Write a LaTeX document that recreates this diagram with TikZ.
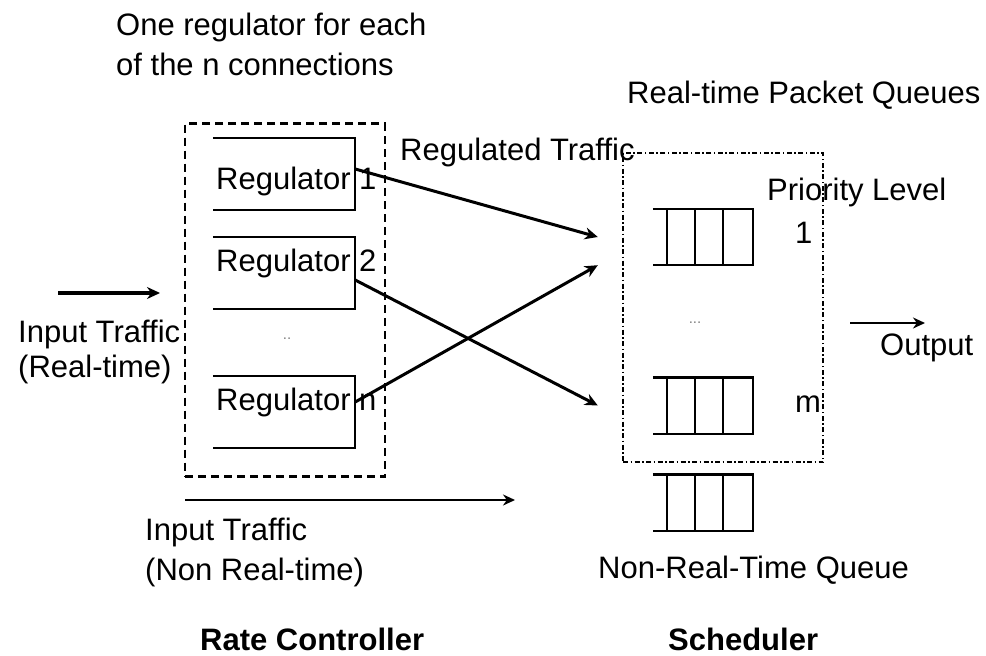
\documentclass[tikz,border=0pt]{standalone}
\usepackage{fontspec}
\setmainfont{Liberation Sans}
\usetikzlibrary{arrows.meta}

\begin{document}
\begin{tikzpicture}[x=1pt,y=-1pt,
    txt/.style={inner sep=0pt,anchor=base west,font=\fontsize{31}{37}\selectfont},
    ttl/.style={txt,font=\fontsize{31}{37}\selectfont\bfseries},
    dots/.style={inner sep=0pt,text=gray,font=\fontsize{15}{15}\selectfont},
    regbox/.style={inner sep=0pt,minimum width=142pt,minimum height=72pt},
    queue/.style={inner sep=0pt,minimum width=100pt,minimum height=56pt},
    flow/.style={line width=3pt,-{Stealth[length=13pt,width=12pt]}},
    thin flow/.style={line width=2.3pt,-{Stealth[length=12pt,width=11pt]}}]
    \useasboundingbox (0,0) rectangle (986,656);
    \node[draw,dash pattern=on 8pt off 5pt,line width=2.2pt,inner sep=0pt,minimum width=200pt,minimum height=353pt] (ctrl) at (285,300) {};
    \node[draw,dash pattern=on 5pt off 2.5pt on 1.5pt off 2.5pt,line width=1.8pt,inner sep=0pt,minimum width=200pt,minimum height=309pt] (sched) at (723,307.5) {};
    \node[regbox] (reg1) at (284,174) {};
    \node[regbox] (reg2) at (284,273) {};
    \node[regbox] (regn) at (284,412) {};
    \foreach \r in {reg1,reg2,regn}
        \draw[line width=2.4pt] (\r.north west) -| (\r.south east) -- (\r.south west);
    \node[txt] (lreg1) at (216,189) {Regulator 1};
    \node[txt] (lreg2) at (216,271) {Regulator 2};
    \node[txt] (lregn) at (216,410) {Regulator n};
    \node[dots] (regdots) at (287,339) {..};
    \node[queue] (q1) at (703,237) {};
    \node[queue] (qm) at (703,405.5) {};
    \node[queue] (qnrt) at (703,502.5) {};
    \foreach \q in {q1,qm,qnrt}{
        \draw[line width=2.4pt] (\q.north west) -| (\q.south east) -- (\q.south west);
        \foreach \d in {14,42,70}
            \draw[line width=2.4pt] ([xshift=\d pt]\q.north west) -- ([xshift=\d pt]\q.south west);
    }
    \node[dots] (qdots) at (695,323) {...};
    \draw[flow] ([yshift=5pt]reg1.east) -- ([xshift=-55pt]q1.west);
    \draw[flow] ([yshift=-7pt]reg2.east) -- ([xshift=-55pt]qm.west);
    \draw[flow] ([yshift=10pt]regn.east) -- ([xshift=-55pt]q1.south west);
    \coordinate (rtin) at (58,293);
    \coordinate (rtend) at (160,293);
    \draw[flow,line width=3.4pt] (rtin) -- (rtend);
    \coordinate (nrtin) at (185,500);
    \coordinate (nrtend) at (515,500);
    \draw[thin flow] (nrtin) -- (nrtend);
    \coordinate (outin) at (850,323);
    \coordinate (outend) at (925,323);
    \draw[thin flow] (outin) -- (outend);
    \node[txt] (note1) at (116,35) {One regulator for each};
    \node[txt] (note2) at (116,75) {of the n connections};
    \node[txt] (rtq) at (627,103) {Real-time Packet Queues};
    \node[txt] (regtr) at (400,160) {Regulated Traffic};
    \node[txt] (prio) at (767,200) {Priority Level};
    \node[txt] (p1) at (795,243) {1};
    \node[txt] (pm) at (795,412) {m};
    \node[txt] (rt1) at (18,342) {Input Traffic};
    \node[txt] (rt2) at (18,377) {(Real-time)};
    \node[txt] (out) at (880,355) {Output};
    \node[txt] (nrt1) at (145,540) {Input Traffic};
    \node[txt] (nrt2) at (145,580) {(Non Real-time)};
    \node[txt] (nrtq) at (598,578) {Non-Real-Time Queue};
    \node[ttl] (rc) at (200,650) {Rate Controller};
    \node[ttl] (sc) at (668,650) {Scheduler};
\end{tikzpicture}
\end{document}
